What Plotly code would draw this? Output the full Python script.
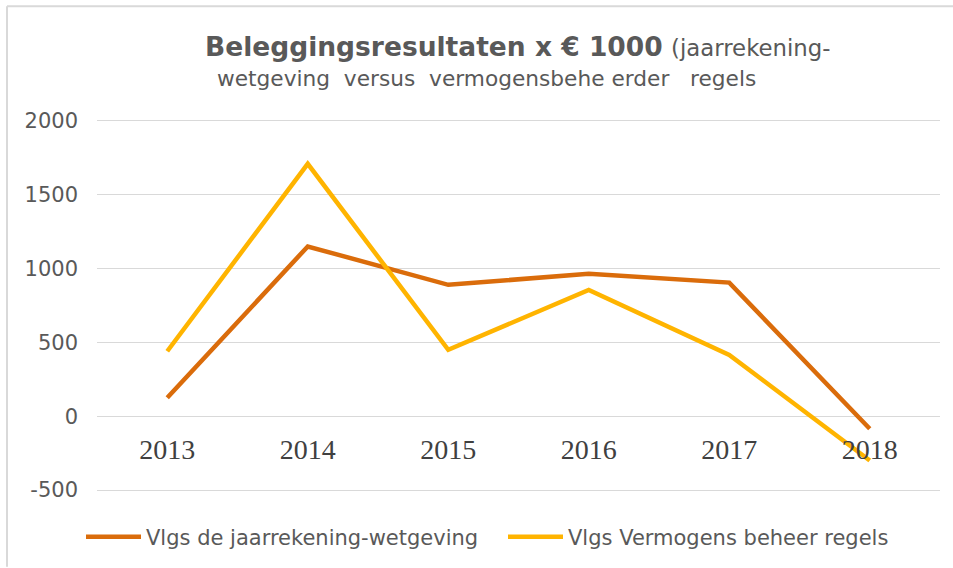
import plotly.graph_objects as go

years = ["2013", "2014", "2015", "2016", "2017", "2018"]
jaarrekening = [125, 1150, 890, 965, 905, -85]
vermogensbeheer = [440, 1710, 450, 855, 415, -300]
series_names = ["Vlgs de jaarrekening-wetgeving", "Vlgs Vermogens beheer regels"]
y_ticks = [-500, 0, 500, 1000, 1500, 2000]
y_tick_text = ["-500", "0", "500", "1000", "1500", "2000"]

ORANGE = "#DA6C0B"
GOLD = "#FFB400"
GRAY = "#595959"
GRID = "#D9D9D9"

W, H = 953, 568
L, R, T, B = 97, 13, 119, 75
pw, ph = W - L - R, H - T - B

def px_x(p):
    return (p - L) / pw

def px_y(p):
    return (H - B - p) / ph

fig = go.Figure()
fig.add_trace(go.Scatter(x=years, y=jaarrekening, name=series_names[0], mode="lines",
                         line=dict(color=ORANGE, width=4.5), xaxis="x2", legend="legend"))
fig.add_trace(go.Scatter(x=years, y=vermogensbeheer, name=series_names[1], mode="lines",
                         line=dict(color=GOLD, width=4.5), xaxis="x2", legend="legend2"))

pad_units = 13.5
r0, r1 = y_ticks[0] - pad_units, y_ticks[-1] + pad_units
legend_font = dict(family="DejaVu Sans", size=21, color=GRAY)

fig.update_layout(
    width=W, height=H, autosize=False,
    margin=dict(l=L, r=R, t=T, b=B, pad=0),
    paper_bgcolor="white", plot_bgcolor="white",
    font=dict(family="DejaVu Sans", color=GRAY),
    xaxis=dict(visible=False, type="category", categoryarray=years, range=[-0.5, 5.5]),
    xaxis2=dict(type="category", categoryarray=years, range=[-0.5, 5.5],
                anchor="free", overlaying="x", position=(0 - r0) / (r1 - r0),
                showgrid=False, showline=False, zeroline=False, ticks="",
                ticklabelstandoff=14,
                tickfont=dict(family="Liberation Serif", size=28, color="#404040")),
    yaxis=dict(range=[r0, r1], tickvals=y_ticks, ticktext=y_tick_text, showgrid=True,
               gridcolor=GRID, gridwidth=1, zeroline=False, showline=False, ticks="",
               ticklabelstandoff=18,
               tickfont=dict(family="DejaVu Sans", size=21, color=GRAY)),
    legend=dict(orientation="h", x=px_x(81), xanchor="left", y=px_y(537), yanchor="middle",
                font=legend_font, bgcolor="rgba(0,0,0,0)", itemwidth=55),
    legend2=dict(orientation="h", x=px_x(503), xanchor="left", y=px_y(537), yanchor="middle",
                 font=legend_font, bgcolor="rgba(0,0,0,0)", itemwidth=55),
    showlegend=True,
    annotations=[
        dict(xref="paper", yref="paper", x=px_x(203), y=px_y(46), xanchor="left", yanchor="middle",
             showarrow=False, align="left",
             text="<b>Beleggingsresultaten x € 1000</b> <span style='font-size:22.8px'>(jaarrekening-</span>",
             font=dict(family="DejaVu Sans", size=26.5, color=GRAY)),
        dict(xref="paper", yref="paper", x=px_x(215), y=px_y(78), xanchor="left", yanchor="middle",
             showarrow=False, align="left",
             text="wetgeving\u00a0\u00a0versus\u00a0\u00a0vermogensbehe\u00a0erder\u00a0\u00a0\u00a0regels",
             font=dict(family="DejaVu Sans", size=21.7, color=GRAY)),
    ],
    shapes=[
        dict(type="line", xref="paper", yref="paper", x0=px_x(7), x1=px_x(7), y0=px_y(6), y1=px_y(568),
             line=dict(color=GRID, width=2)),
        dict(type="line", xref="paper", yref="paper", x0=px_x(7), x1=px_x(953), y0=px_y(6), y1=px_y(6),
             line=dict(color=GRID, width=2)),
    ],
)

fig.write_html("out.html", config={"displayModeBar": False},
               post_script="document.body.style.margin='0';document.body.style.overflow='hidden';")
